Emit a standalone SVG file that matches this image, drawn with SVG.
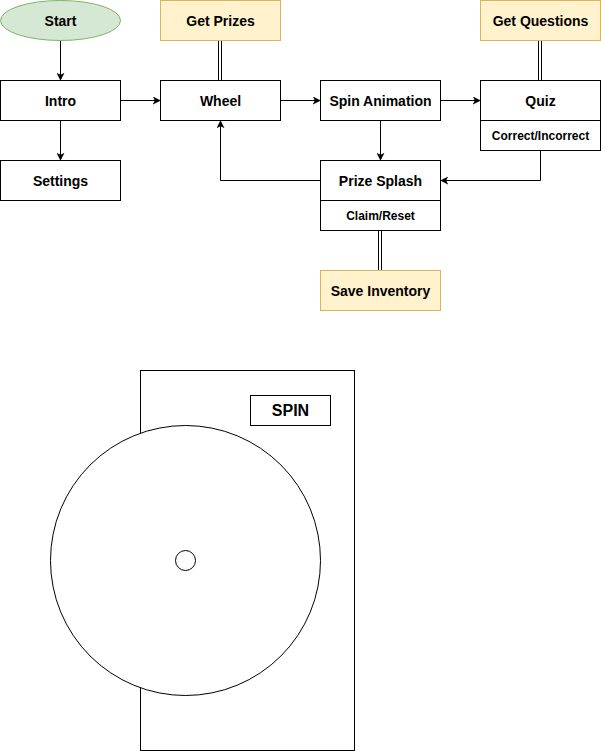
<svg xmlns="http://www.w3.org/2000/svg" width="601" height="751" viewBox="0 0 601 751">
<defs>
<style>
.n{fill:#fff;stroke:#000;stroke-width:1}
.y{fill:#fff2cc;stroke:#d6b656;stroke-width:1}
.g{fill:#d5e8d4;stroke:#82b366;stroke-width:1}
.t{font-family:"Liberation Sans",Arial,sans-serif;font-size:14px;font-weight:bold;fill:#000;text-anchor:middle;dominant-baseline:central}
.s{font-size:12px}
.e{fill:none;stroke:#000;stroke-width:1}
</style>
<marker id="a" viewBox="0 0 10 10" refX="9" refY="5" markerWidth="8" markerHeight="8" markerUnits="userSpaceOnUse" orient="auto">
<path d="M0,0 L10,5 L0,10 L2.5,5 Z" fill="#000"/>
</marker>
</defs>
<rect width="601" height="751" fill="#fff"/>
<g id="connectors">
<line class="e" x1="60.5" y1="40.5" x2="60.5" y2="80" marker-end="url(#a)"/>
<line class="e" x1="60.5" y1="120.5" x2="60.5" y2="160" marker-end="url(#a)"/>
<line class="e" x1="120.5" y1="100.5" x2="160" y2="100.5" marker-end="url(#a)"/>
<line class="e" x1="280.5" y1="100.5" x2="320" y2="100.5" marker-end="url(#a)"/>
<line class="e" x1="440.5" y1="100.5" x2="480" y2="100.5" marker-end="url(#a)"/>
<line class="e" x1="380.5" y1="120.5" x2="380.5" y2="160" marker-end="url(#a)"/>
<polyline class="e" points="540.5,150.5 540.5,180.5 441,180.5" marker-end="url(#a)"/>
<polyline class="e" points="320.5,180.5 220.5,180.5 220.5,121" marker-end="url(#a)"/>
<line class="e" x1="218.5" y1="40.5" x2="218.5" y2="80.5"/>
<line class="e" x1="221.5" y1="40.5" x2="221.5" y2="80.5"/>
<line class="e" x1="538.5" y1="40.5" x2="538.5" y2="80.5"/>
<line class="e" x1="541.5" y1="40.5" x2="541.5" y2="80.5"/>
<line class="e" x1="378.5" y1="230.5" x2="378.5" y2="270.5"/>
<line class="e" x1="381.5" y1="230.5" x2="381.5" y2="270.5"/>
</g>
<g id="start"><ellipse class="g" cx="60.5" cy="20.5" rx="60" ry="20"/><text class="t" x="60.5" y="20.5">Start</text></g>
<g id="intro"><rect class="n" x="0.5" y="80.5" width="120" height="40"/><text class="t" x="60.5" y="100.5">Intro</text></g>
<g id="settings"><rect class="n" x="0.5" y="160.5" width="120" height="40"/><text class="t" x="60.5" y="180.5">Settings</text></g>
<g id="get-prizes"><rect class="y" x="160.5" y="0.5" width="120" height="40"/><text class="t" x="220.5" y="20.5">Get Prizes</text></g>
<g id="wheel"><rect class="n" x="160.5" y="80.5" width="120" height="40"/><text class="t" x="220.5" y="100.5">Wheel</text></g>
<g id="spin-animation"><rect class="n" x="320.5" y="80.5" width="120" height="40"/><text class="t" x="380.5" y="100.5">Spin Animation</text></g>
<g id="get-questions"><rect class="y" x="480.5" y="0.5" width="120" height="40"/><text class="t" x="540.5" y="20.5">Get Questions</text></g>
<g id="quiz"><rect class="n" x="480.5" y="80.5" width="120" height="70"/><line class="e" x1="480.5" y1="120.5" x2="600.5" y2="120.5"/><text class="t" x="540.5" y="100.5">Quiz</text><text class="t s" x="540.5" y="135.5">Correct/Incorrect</text></g>
<g id="prize-splash"><rect class="n" x="320.5" y="160.5" width="120" height="70"/><line class="e" x1="320.5" y1="200.5" x2="440.5" y2="200.5"/><text class="t" x="380.5" y="180.5">Prize Splash</text><text class="t s" x="380.5" y="215.5">Claim/Reset</text></g>
<g id="save-inventory"><rect class="y" x="320.5" y="270.5" width="120" height="40"/><text class="t" x="380.5" y="290.5">Save Inventory</text></g>
<g id="wheel-mockup">
<rect class="n" x="140.5" y="370.5" width="214" height="380"/>
<circle class="n" cx="185.5" cy="560.5" r="135"/>
<circle class="n" cx="185.5" cy="560.5" r="10"/>
<rect class="n" x="250.5" y="395.5" width="80" height="30"/>
<text class="t" x="290.5" y="410.5" style="font-size:16px">SPIN</text>
</g>
</svg>
